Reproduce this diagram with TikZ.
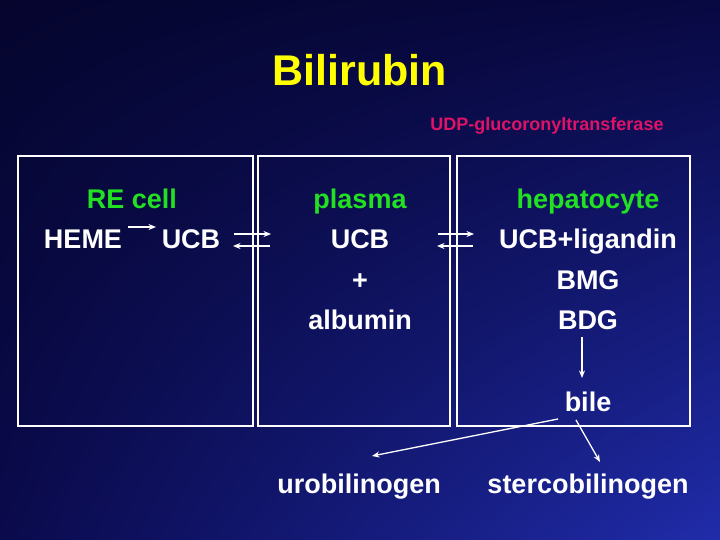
\documentclass[tikz,border=0pt]{standalone}
\usepackage{fontspec}
\setmainfont{Liberation Sans}
\usetikzlibrary{arrows.meta,shadings}
\definecolor{bgA}{RGB}{5,5,46}
\definecolor{bgB}{RGB}{8,8,66}
\definecolor{bgC}{RGB}{10,10,76}
\definecolor{bgD}{RGB}{32,44,170}
\definecolor{titleyellow}{RGB}{255,255,0}
\definecolor{labgreen}{RGB}{34,224,34}
\definecolor{enzmag}{RGB}{222,18,102}
\tikzset{
  box/.style={draw=white, line width=1.2pt, minimum width=#1, inner sep=0pt},
  bodytext/.style={text=white, font=\fontsize{27}{32}\selectfont\bfseries, anchor=base, inner sep=0pt},
  headtext/.style={text=labgreen, font=\fontsize{27}{32}\selectfont\bfseries, anchor=base, inner sep=0pt},
  conn/.style={draw=white, line width=1.3pt, -{Stealth[length=7.5pt,width=6pt]}},
}
\begin{document}
\begin{tikzpicture}[x=1pt,y=-1pt]
\shade[upper left=bgA, upper right=bgB, lower left=bgC, lower right=bgD] (0,0) rectangle (720,540);
\useasboundingbox (0,0) rectangle (720,540);
% boxes
\node[box=235pt, minimum height=270pt] (rebox) at (135.5,291) {};
\node[box=192pt, minimum height=270pt] (plbox) at (354,291) {};
\node[box=233pt, minimum height=270pt] (hpbox) at (573.5,291) {};
% title and enzyme
\node[text=titleyellow, font=\fontsize{43}{50}\selectfont\bfseries, anchor=base, inner sep=0pt] (title) at (360,86) {Bilirubin};
\node[text=enzmag, font=\fontsize{18}{21}\selectfont\bfseries, anchor=base, inner sep=0pt] (enz) at (547,131) {UDP-glucoronyltransferase};
% RE cell
\node[headtext] (recell) at (132,208) {RE cell};
\node[bodytext] (heme) at (83,248) {HEME};
\node[bodytext] (ucbA) at (191,248) {UCB};
% plasma
\node[headtext] (plasma) at (360,208) {plasma};
\node[bodytext] (ucbB) at (360,248) {UCB};
\node[bodytext] (plus) at (360,289) {+};
\node[bodytext] (albumin) at (360,329) {albumin};
% hepatocyte
\node[headtext] (hepato) at (588,208) {hepatocyte};
\node[bodytext] (ucblig) at (588,248) {UCB+ligandin};
\node[bodytext] (bmg) at (588,289) {BMG};
\node[bodytext] (bdg) at (588,329) {BDG};
\node[bodytext] (bile) at (588,411) {bile};
% bottom
\node[bodytext] (uro) at (359,493) {urobilinogen};
\node[bodytext] (sterco) at (588,493) {stercobilinogen};
% connector end points
\coordinate (hemeE) at (128,227);
\coordinate (ucbAW) at (156,227);
\coordinate (eqAl) at (234,234);
\coordinate (eqAr) at (271,234);
\coordinate (eqAl2) at (233,246);
\coordinate (eqAr2) at (270,246);
\coordinate (eqBl) at (438,234);
\coordinate (eqBr) at (474,234);
\coordinate (eqBl2) at (437,246);
\coordinate (eqBr2) at (473,246);
\coordinate (bdgS) at (582,337);
\coordinate (bileN) at (582,378);
\coordinate (bileSW) at (558,419);
\coordinate (uroN) at (372,456);
\coordinate (bileS) at (576,420);
\coordinate (stercoN) at (600,462);
% connectors
\draw[conn] (hemeE) -- (ucbAW);
\draw[conn] (eqAl) -- (eqAr);
\draw[conn] (eqAr2) -- (eqAl2);
\draw[conn] (eqBl) -- (eqBr);
\draw[conn] (eqBr2) -- (eqBl2);
\draw[conn] (bdgS) -- (bileN);
\draw[conn] (bileSW) -- (uroN);
\draw[conn] (bileS) -- (stercoN);
\end{tikzpicture}
\end{document}
